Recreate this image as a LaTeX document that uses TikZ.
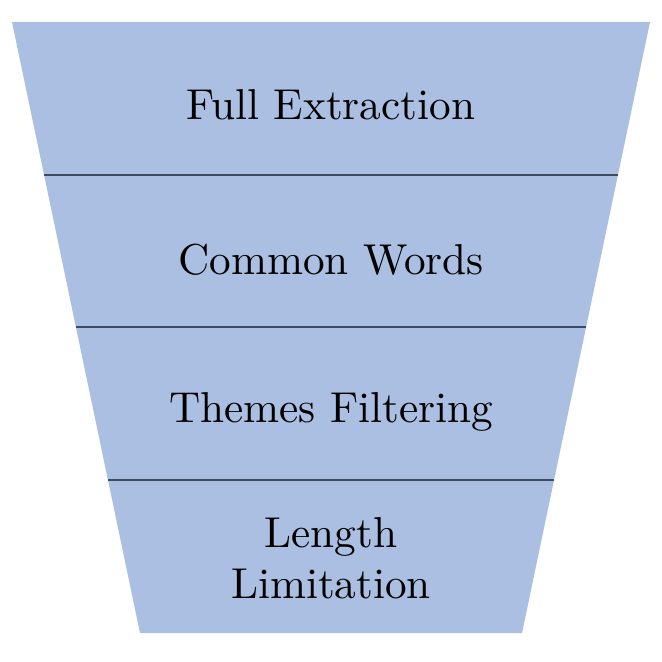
\documentclass[tikz,border=0pt]{standalone}
\usepackage{tikz}
\definecolor{funnelblue}{HTML}{AABFE1}
\definecolor{bandline}{HTML}{3E4A5E}
\begin{document}
\begin{tikzpicture}[x=0.236pt,y=-0.236pt,thin,font=\fontsize{10.2}{12}\selectfont]
  \useasboundingbox (0,0) rectangle (662,662);
  % funnel body
  \fill[funnelblue] (12,22)--(650,22)--(522,633)--(140,633)--cycle;
  % band borders
  \foreach \y/\l/\r in {175/44/618,327/76/586,480/108/554}
  {
    \draw[bandline,line width=0.45pt] (\l,\y)--(\r,\y);
  }
  % stage labels
  \node (full) at (331,105) {Full Extraction};
  \node (common) at (331,260) {Common Words};
  \node (themes) at (331,412) {Themes Filtering};
  \node[align=center] (length) at (331,558) {Length\\Limitation};
\end{tikzpicture}
\end{document}
